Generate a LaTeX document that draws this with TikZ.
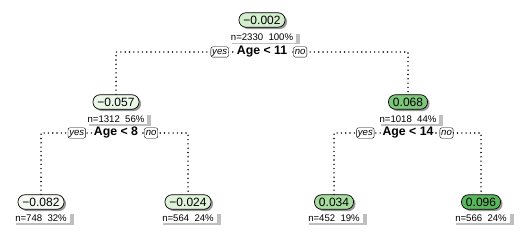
\documentclass[tikz,border=0pt]{standalone}
\usepackage{fontspec}
\setmainfont{Liberation Sans}
\usetikzlibrary{shadows,backgrounds}
\definecolor{cA}{HTML}{F5FBF3}
\definecolor{cB}{HTML}{EAF7E6}
\definecolor{cC}{HTML}{DFF2DA}
\definecolor{cD}{HTML}{D3EECD}
\definecolor{cE}{HTML}{A7DC9F}
\definecolor{cF}{HTML}{7DC77B}
\definecolor{cG}{HTML}{58B75B}
\begin{document}
\begin{tikzpicture}[x=1pt,y=-1pt,
  leaf/.style={draw=black, line width=0.7pt, rounded corners=7pt, inner xsep=4.5pt, inner ysep=0pt,
    minimum height=14.5pt, text height=8.8pt, text depth=0pt, font=\fontsize{12}{12}\selectfont,
    drop shadow={shadow xshift=2pt, shadow yshift=-1.8pt, fill=black!40, opacity=1}},
  nlab/.style={fill=white, inner xsep=3pt, inner ysep=1.5pt, text height=7pt, text depth=0.5pt,
    font=\fontsize{9.6}{9.6}\selectfont,
    drop shadow={shadow xshift=4pt, shadow yshift=-1.5pt, fill=black!25, opacity=1}},
  splitlab/.style={fill=white, inner xsep=1.5pt, inner ysep=1pt, font=\fontsize{12.3}{12.3}\selectfont\bfseries},
  yn/.style={draw=black, line width=0.4pt, rounded corners=2pt, fill=white, inner xsep=1.3pt,
    inner ysep=0.8pt, text height=6.8pt, text depth=2pt, font=\fontsize{9.6}{9.6}\selectfont\itshape},
  dotline/.style={line width=1.6pt, line cap=round, dash pattern=on 0pt off 4.3pt}
]
\useasboundingbox (0,0) rectangle (526,240);

% root
\node[leaf, fill=cD] (n1) at (262,20) {−0.002};
\node[nlab] (l1) at (262,37.5) {n=2330\hspace{0.55em}100\%};
\node[splitlab] (s1) at (262,52) {Age < 11};
\node[yn, anchor=east] (y1) at ([xshift=-6.5pt]s1.west) {yes};
\node[yn, anchor=west] (o1) at ([xshift=4.5pt]s1.east) {no};

% left child
\node[leaf, fill=cB] (n2) at (116,102) {−0.057};
\node[nlab] (l2) at (116,119) {n=1312\hspace{0.55em}56\%};
\node[splitlab] (s2) at (116,133) {Age < 8};
\node[yn, anchor=east] (y2) at ([xshift=-6.5pt]s2.west) {yes};
\node[yn, anchor=west] (o2) at ([xshift=4.5pt]s2.east) {no};

% right child
\node[leaf, fill=cF] (n3) at (408,102) {0.068};
\node[nlab] (l3) at (408,119) {n=1018\hspace{0.55em}44\%};
\node[splitlab] (s3) at (408,133) {Age < 14};
\node[yn, anchor=east] (y3) at ([xshift=-6.5pt]s3.west) {yes};
\node[yn, anchor=west] (o3) at ([xshift=4.5pt]s3.east) {no};

% leaves
\node[leaf, fill=cA] (n4) at (41,202) {−0.082};
\node[nlab] (l4) at (41,218) {n=748\hspace{0.55em}32\%};
\node[leaf, fill=cC] (n5) at (188,202) {−0.024};
\node[nlab] (l5) at (188,218) {n=564\hspace{0.55em}24\%};
\node[leaf, fill=cE] (n6) at (334,202) {0.034};
\node[nlab] (l6) at (334,218) {n=452\hspace{0.55em}19\%};
\node[leaf, fill=cG] (n7) at (481,202) {0.096};
\node[nlab] (l7) at (481,218) {n=566\hspace{0.55em}24\%};

\begin{pgfonlayer}{background}
\draw[dotline] (n2.north) |- (s1.center) -| (n3.north);
\draw[dotline] (n4.north) |- (s2.center) -| (n5.north);
\draw[dotline] (n6.north) |- (s3.center) -| (n7.north);
\end{pgfonlayer}
\end{tikzpicture}
\end{document}
